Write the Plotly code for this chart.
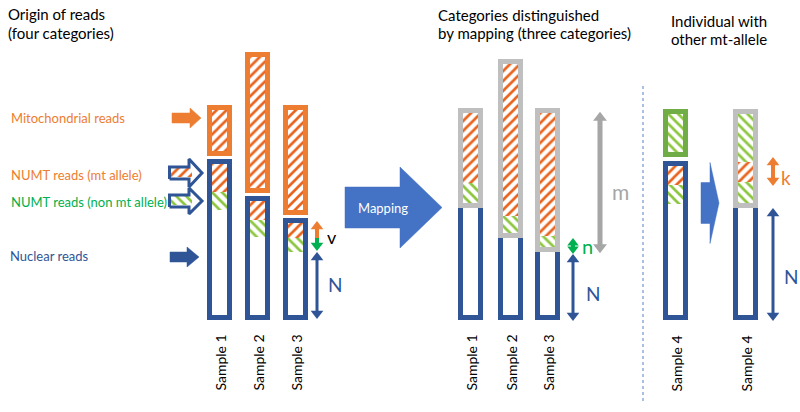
import plotly.graph_objects as go

# ---------------- data (schematic read amounts, 1 unit ~ 1 px) ----------------
samples = ["Sample 1", "Sample 2", "Sample 3"]
# origin of reads (four categories)
mito_reads = [41, 131, 100]
numt_mt_reads = [28, 19, 15]
numt_non_reads = [18, 17, 14]
nuclear_reads = [105, 78, 63]
# categories distinguished by mapping (three categories)
mapped_mt = [70, 152, 123]
mapped_non = [20, 17, 11]
mapped_nuclear = [107, 77, 63]
# individual with other mt-allele
s4_label = "Sample 4"
s4_other_mito = 38
s4_numt_mt = 19
s4_numt_non = 19
s4_nuclear = 111
s4_mapped_segments = [21, 20, 48]          # bottom -> top: non-mt, mt, other-mito
s4_mapped_colors = ["green", "orange", "green"]
s4_mapped_nuclear = 107

category_labels = ["Mitochondrial reads", "NUMT reads (mt allele)",
                   "NUMT reads (non mt allele)", "Nuclear reads"]

# ---------------- layout constants ----------------
left_x = [219.5, 257.5, 295.5]
mid_x = [470.5, 510.5, 547.5]
s4_left_x, s4_right_x = 675.5, 745.5
W, B, GAP = 25, 5, 3
IW = W - 2 * B
BASE_PX = 320          # pixel row of value 0


def Y(p):              # pixel row -> axis value
    return BASE_PX - p


ORANGE = "#ED7D31"
ORANGE_H = "#E8641E"
GREEN_H = "#8CC63F"
GREEN_BOX = "#70AD47"
GREEN_A = "#00B050"
BLUE = "#2F5597"
BLUE2 = "#4472C4"
GRAY = "#BFBFBF"
GRAY_A = "#A6A6A6"
FONT = "Lato"

fig = go.Figure()


def rect(cx, base, h, w, color=None, hatch=None):
    if hatch:
        shape, fg = hatch
        marker = dict(color=fg, line=dict(width=0),
                      pattern=dict(shape=shape, fgcolor=fg, bgcolor="white",
                                   size=7, solidity=0.38, fillmode="replace"))
    else:
        marker = dict(color=color, line=dict(width=0))
    fig.add_trace(go.Bar(x=[cx], y=[h], base=[base], width=[w], marker=marker,
                         hoverinfo="skip", showlegend=False))


HATCH = {"orange": ("/", ORANGE_H), "green": ("\\", GREEN_H)}

# ---- left panel: origin of reads
for i, cx in enumerate(left_x):
    nuc, non, mt, mito = nuclear_reads[i], numt_non_reads[i], numt_mt_reads[i], mito_reads[i]
    blue_h = B + nuc + non + mt + B
    rect(cx, 0, blue_h, W, BLUE)
    rect(cx, B, nuc, IW, "white")
    rect(cx, B + nuc, non, IW, hatch=HATCH["green"])
    rect(cx, B + nuc + non, mt, IW, hatch=HATCH["orange"])
    ob = blue_h + GAP
    rect(cx, ob, B + mito + B, W, ORANGE)
    rect(cx, ob + B, mito, IW, hatch=HATCH["orange"])

# ---- middle panel: after mapping
for i, cx in enumerate(mid_x):
    nuc, non, mt = mapped_nuclear[i], mapped_non[i], mapped_mt[i]
    rect(cx, 0, B + nuc, W, BLUE)
    rect(cx, B, nuc, IW, "white")
    gb = B + nuc
    rect(cx, gb, B + non + mt + B, W, GRAY)
    rect(cx, gb + B, non, IW, hatch=HATCH["green"])
    rect(cx, gb + B + non, mt, IW, hatch=HATCH["orange"])

# ---- sample 4 origin
blue_h = B + s4_nuclear + s4_numt_non + s4_numt_mt + B
rect(s4_left_x, 0, blue_h, W, BLUE)
rect(s4_left_x, B, s4_nuclear, IW, "white")
rect(s4_left_x, B + s4_nuclear, s4_numt_non, IW, hatch=HATCH["green"])
rect(s4_left_x, B + s4_nuclear + s4_numt_non, s4_numt_mt, IW, hatch=HATCH["orange"])
gb4 = blue_h + GAP + 1
rect(s4_left_x, gb4, B + s4_other_mito + B, W, GREEN_BOX)
rect(s4_left_x, gb4 + B, s4_other_mito, IW, hatch=HATCH["green"])

# ---- sample 4 mapped
rect(s4_right_x, 0, B + s4_mapped_nuclear, W, BLUE)
rect(s4_right_x, B, s4_mapped_nuclear, IW, "white")
gb = B + s4_mapped_nuclear
rect(s4_right_x, gb, B + sum(s4_mapped_segments) + B, W, GRAY)
acc = gb + B
for seg, col in zip(s4_mapped_segments, s4_mapped_colors):
    rect(s4_right_x, acc, seg, IW, hatch=HATCH[col])
    acc += seg

# hatched contents of the two NUMT input arrows (drawn as bars, outline on top)
rect(181.5, Y(177), 9, 21, hatch=HATCH["orange"])
rect(181.5, Y(205), 9, 21, hatch=HATCH["green"])


# ---------------- block arrows ----------------
def block_arrow(x0, xh, x1, yc, sh, hh, fill, line=None, lw=0):
    xs = [x0, xh, xh, x1, xh, xh, x0, x0]
    ys = [yc + sh, yc + sh, yc + hh, yc, yc - hh, yc - sh, yc - sh, yc + sh]
    if fill is None:
        fig.add_trace(go.Scatter(x=xs, y=[Y(v) for v in ys], mode="lines",
                                 line=dict(color=line, width=lw),
                                 hoverinfo="skip", showlegend=False))
    else:
        fig.add_trace(go.Scatter(x=xs, y=[Y(v) for v in ys], mode="lines", fill="toself",
                                 fillcolor=fill, line=dict(color=fill, width=0.5),
                                 hoverinfo="skip", showlegend=False))


block_arrow(172, 190, 201, 118, 5, 10, ORANGE)
block_arrow(169.5, 189, 202, 173, 6, 14, None, BLUE, 3)
block_arrow(169.5, 189, 202, 201, 6, 13, None, BLUE, 3)
block_arrow(170, 187, 199, 257, 5, 10, BLUE)
block_arrow(345, 400, 442, 207.5, 20.5, 40.5, BLUE2)
block_arrow(701, 710, 719, 203, 20.5, 40.5, BLUE2)


# ---------------- dimension arrows ----------------
def dim_arrow(x, y0, y1, color, width=3, head=10, up=True, down=True):
    a = y0 + (head * 0.45 if down else 0)
    b = y1 - (head * 0.45 if up else 0)
    fig.add_trace(go.Scatter(x=[x, x], y=[a, b], mode="lines",
                             line=dict(color=color, width=width),
                             hoverinfo="skip", showlegend=False))
    mx, my, sym = [], [], []
    if down:
        mx.append(x); my.append(y0 + head * 0.4); sym.append("triangle-down")
    if up:
        mx.append(x); my.append(y1 - head * 0.4); sym.append("triangle-up")
    fig.add_trace(go.Scatter(x=mx, y=my, mode="markers",
                             marker=dict(symbol=sym, size=head, color=color, line=dict(width=0)),
                             hoverinfo="skip", showlegend=False))


s3n = B + nuclear_reads[2]
dim_arrow(317, 2, s3n - 1, BLUE, 3, 11)
dim_arrow(317, s3n + numt_non_reads[2], s3n + numt_non_reads[2] + numt_mt_reads[2] + 1,
          ORANGE, 4, 11, up=True, down=False)
dim_arrow(317, s3n + 2, s3n + numt_non_reads[2], GREEN_A, 4, 11, up=False, down=True)

m3 = B + mapped_nuclear[2]
dim_arrow(600, m3, m3 + B + mapped_non[2] + mapped_mt[2], GRAY_A, 5, 12)
dim_arrow(573, m3 - 1, m3 + 13, GREEN_A, 4, 10)
dim_arrow(573, 0, m3 - 3, BLUE, 3, 11)

s4m = B + s4_mapped_nuclear
dim_arrow(773, s4m + B + s4_mapped_segments[0] - 3, s4m + B + s4_mapped_segments[0] + s4_mapped_segments[1] + 4,
          ORANGE, 4, 11)
dim_arrow(773, 0, s4m - 1, BLUE, 3, 11)

# dotted separator
fig.add_trace(go.Scatter(x=[643, 643], y=[Y(86), Y(403)], mode="lines",
                         line=dict(color="#8FAADC", width=1.5, dash="dot"),
                         hoverinfo="skip", showlegend=False))


# ---------------- text ----------------
def text(x, p, s, size, color="black", anchor="left", angle=0):
    fig.add_annotation(x=x, y=Y(p), text=s, showarrow=False, xanchor=anchor, yanchor="middle",
                       textangle=angle, font=dict(family=FONT, size=size, color=color))


text(6, 14, "Origin of reads", 15)
text(6, 33, "(four categories)", 15)
text(436, 15, "Categories distinguished", 15)
text(436, 33, "by mapping (three categories)", 15)
text(669, 21, "Individual with", 15)
text(669, 39, "other mt-allele", 15)

text(9, 118, category_labels[0], 13, ORANGE)
text(9, 175, category_labels[1], 13, ORANGE)
text(9, 202, category_labels[2], 13, GREEN_A)
text(8, 256, category_labels[3], 13, BLUE)

text(383, 208, "Mapping", 13, "white", "center")

text(325, 237, "v", 18, "black")
text(326, 284, "N", 19, BLUE)
text(610, 191, "m", 21, GRAY_A)
text(580, 246, "n", 20, GREEN_A)
text(584, 293, "N", 19, BLUE)
text(779, 177, "k", 19, ORANGE)
text(782, 276, "N", 19, BLUE)

for cx, s in zip(left_x, samples):
    text(cx, 363, s, 14, "black", "center", -90)
for cx, s in zip(mid_x, samples):
    text(cx, 363, s, 14, "black", "center", -90)
text(s4_left_x, 364, s4_label, 14, "black", "center", -90)
text(s4_right_x, 364, s4_label, 14, "black", "center", -90)

fig.update_layout(
    width=800, height=412, margin=dict(l=0, r=0, t=0, b=0),
    paper_bgcolor="white", plot_bgcolor="white", barmode="overlay",
    xaxis=dict(range=[0, 800], visible=False, fixedrange=True),
    yaxis=dict(range=[Y(412), Y(0)], visible=False, fixedrange=True),
    showlegend=False,
)
fig.write_html("out.html", config={"displayModeBar": False},
               post_script="document.body.style.margin='0';document.body.style.overflow='hidden';")
